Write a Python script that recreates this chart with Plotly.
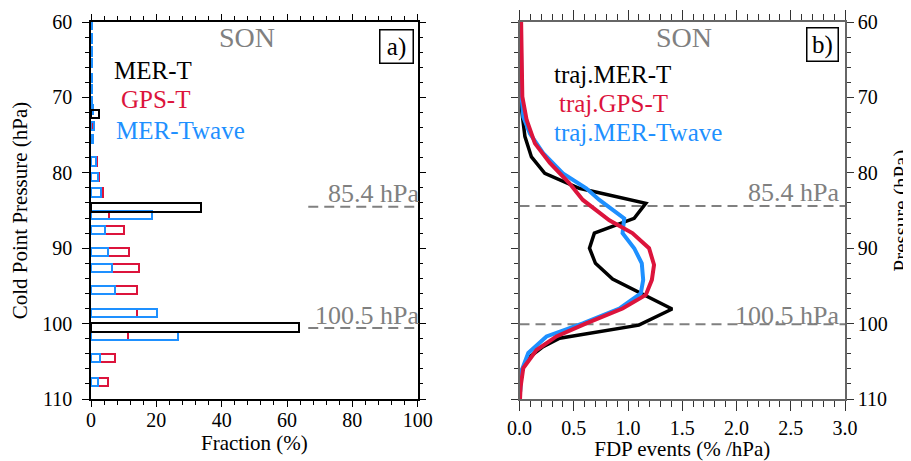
import plotly.graph_objects as go

# ---------------- Panel a data: fraction (%) at cold point pressure levels ----------------
levels_rb = [60.4, 62.2, 63.9, 65.4, 67.4, 68.9, 70.5, 71.6, 73.8, 75.5, 78.5, 80.6, 82.6,
             85.6, 87.55, 90.55, 92.6, 95.55, 98.6, 101.65, 104.6, 107.75]
gps_t = [0.2, 0.2, 0.2, 0.2, 0.2, 0.2, 0.3, 0.6, 0.4, 0.6, 1.7, 2.5, 3.7,
         5.5, 10.1, 11.6, 14.6, 14.2, 14.2, 11.2, 7.4, 5.1]
mer_twave = [0.2, 0.2, 0.2, 0.2, 0.2, 0.3, 0.3, 0.5, 0.8, 0.5, 1.4, 2.0, 3.0,
             18.7, 4.3, 5.2, 6.4, 7.2, 20.2, 26.7, 2.8, 2.2]
levels_k = [72.2, 84.6, 100.5]
mer_t = [2.3, 33.8, 63.6]

# ---------------- Panel b data: FDP events (% /hPa) ----------------
p_traj_mer = [60, 65, 70, 71.7, 75.2, 77.9, 80.07, 82.06, 84.05, 86.04, 88.0, 90.0, 92.0,
              94.1, 98.06, 100.2, 101.95, 103.06, 104.4, 106.2, 108, 110]
v_traj_mer = [0.01, 0.012, 0.015, 0.02, 0.05, 0.11, 0.233, 0.55, 1.164, 1.057, 0.69, 0.645,
              0.70, 0.858, 1.407, 1.10, 0.37, 0.218, 0.096, 0.02, 0.01, 0.005]
p_traj_gps = [60, 65, 69.9, 73, 76.1, 78.7, 81.4, 83.6, 86.3, 88.0, 90.0, 92.2, 94.2, 96.2,
              98.0, 99.96, 101.7, 103.5, 105.9, 108.4, 110]
v_traj_gps = [0.015, 0.02, 0.026, 0.066, 0.142, 0.28, 0.46, 0.584, 0.828, 1.04, 1.194, 1.24,
              1.22, 1.164, 0.95, 0.615, 0.34, 0.157, 0.035, 0.01, 0.005]
p_traj_wave = [60, 65, 70, 72.6, 74.8, 77.4, 80.07, 82.06, 83.6, 86.04, 88.0, 90.0, 92.0,
               94.2, 96.0, 98.0, 99.96, 101.7, 103.9, 106.2, 110]
v_traj_wave = [0.01, 0.015, 0.02, 0.035, 0.096, 0.218, 0.40, 0.615, 0.736, 0.965, 0.95, 1.057,
               1.127, 1.14, 1.118, 0.92, 0.584, 0.249, 0.081, 0.02, 0.0]

ref_p_a = [84.5, 100.6]
ref_p_b = [84.4, 100.1]
ref_labels = ["85.4 hPa", "100.5 hPa"]

BLACK = "#000000"
RED = "#DC143C"
BLUE = "#1E90FF"
GRAY = "#808080"
FONT = "Liberation Serif"

fig = go.Figure()

# panel a bars
fig.add_trace(go.Bar(y=levels_rb, x=gps_t, orientation="h", width=1.1,
                     marker=dict(color="rgba(0,0,0,0)", line=dict(color=RED, width=2)),
                     xaxis="x", yaxis="y", showlegend=False))
fig.add_trace(go.Bar(y=levels_rb, x=mer_twave, orientation="h", width=1.1,
                     marker=dict(color="rgba(0,0,0,0)", line=dict(color=BLUE, width=2)),
                     xaxis="x", yaxis="y", showlegend=False))
fig.add_trace(go.Bar(y=levels_k, x=mer_t, orientation="h", width=1.1,
                     marker=dict(color="rgba(0,0,0,0)", line=dict(color=BLACK, width=2)),
                     xaxis="x", yaxis="y", showlegend=False))

# panel a dashed reference lines
for p in ref_p_a:
    fig.add_trace(go.Scatter(x=[66.5, 100], y=[p, p], mode="lines",
                             line=dict(color=GRAY, width=2, dash="10px,6px"),
                             xaxis="x", yaxis="y", showlegend=False, hoverinfo="skip"))
# panel b dashed reference lines
for p in ref_p_b:
    fig.add_trace(go.Scatter(x=[0, 3], y=[p, p], mode="lines",
                             line=dict(color=GRAY, width=2, dash="10px,6px"),
                             xaxis="x2", yaxis="y2", showlegend=False, hoverinfo="skip"))

# panel b curves
fig.add_trace(go.Scatter(x=v_traj_mer, y=p_traj_mer, mode="lines",
                         line=dict(color=BLACK, width=3.5), xaxis="x2", yaxis="y2", showlegend=False))
fig.add_trace(go.Scatter(x=v_traj_wave, y=p_traj_wave, mode="lines",
                         line=dict(color=BLUE, width=4), xaxis="x2", yaxis="y2", showlegend=False))
fig.add_trace(go.Scatter(x=v_traj_gps, y=p_traj_gps, mode="lines",
                         line=dict(color=RED, width=4), xaxis="x2", yaxis="y2", showlegend=False))

# page body has an 8px margin, so the figure is 8px smaller and offset
OFF = 8
W, H = 911 - OFF, 461 - OFF
tickfont = dict(family=FONT, size=20, color="#000000")
titlefont = dict(family=FONT, size=21, color="#000000")

fig.update_layout(
    width=W, height=H,
    margin=dict(l=0, r=0, t=22 - OFF, b=62),
    paper_bgcolor="white", plot_bgcolor="white",
    barmode="overlay", bargap=0,
    font=dict(family=FONT),
    xaxis=dict(domain=[(91 - OFF) / W, (417.7 - OFF) / W], range=[0, 100], anchor="y",
               automargin=False,
               showline=True, linecolor="#000000", linewidth=1.5, mirror="ticks",
               ticks="outside", ticklen=6, tickwidth=1.2, tickcolor="#000000",
               dtick=20, tick0=0, showgrid=False, zeroline=False,
               minor=dict(dtick=4, ticks="outside", ticklen=4, tickwidth=1, tickcolor="#000000", showgrid=False),
               tickfont=tickfont, ticklabelstandoff=-4,
               title=dict(text="Fraction (%)", font=titlefont, standoff=3)),
    yaxis=dict(domain=[0, 1], range=[110, 60], anchor="x", automargin=False,
               showline=True, linecolor="#000000", linewidth=1.5, mirror="ticks",
               ticks="outside", ticklen=7, tickwidth=1.2, tickcolor="#000000",
               dtick=10, tick0=60, showgrid=False, zeroline=False,
               minor=dict(dtick=2, ticks="outside", ticklen=4, tickwidth=1, tickcolor="#000000", showgrid=False),
               tickfont=tickfont, ticklabelstandoff=6,
               title=dict(text="Cold Point Pressure (hPa)", font=titlefont, standoff=10)),
    xaxis2=dict(domain=[(519.5 - OFF) / W, (845 - OFF) / W], range=[0, 3], anchor="y2",
                automargin=False,
                showline=True, linecolor="#666666", linewidth=1.5, mirror="ticks",
                ticks="outside", ticklen=10, tickwidth=1.2, tickcolor="#333333",
                dtick=0.5, tick0=0, tickformat=".1f", showgrid=False, zeroline=False,
                minor=dict(dtick=0.1, ticks="outside", ticklen=6, tickwidth=1, tickcolor="#333333", showgrid=False),
                tickfont=tickfont,
                title=dict(text="FDP events (% /hPa)", font=titlefont, standoff=6)),
    yaxis2=dict(domain=[0, 1], range=[110, 60], anchor="x2", side="right", automargin=False,
                showline=True, linecolor="#666666", linewidth=1.5, mirror="ticks",
                ticks="outside", ticklen=7, tickwidth=1.2, tickcolor="#333333",
                dtick=10, tick0=60, showgrid=False, zeroline=False,
                minor=dict(dtick=2, ticks="outside", ticklen=4, tickwidth=1, tickcolor="#333333", showgrid=False),
                tickfont=tickfont),
)

ann = []
def txt(x, y, text, color, size, xref, yref, xanchor="left", xshift=0):
    ann.append(dict(x=x, y=y, xref=xref, yref=yref, text=text, showarrow=False,
                    xanchor=xanchor, yanchor="middle", xshift=xshift,
                    font=dict(family=FONT, size=size, color=color)))

# panel a texts
txt(47.6, 62.1, "SON", GRAY, 28, "x", "y", "center")
txt(6.5, 66.4, "MER-T", BLACK, 25, "x", "y")
txt(8.7, 70.3, "GPS-T", RED, 25, "x", "y")
txt(6.9, 74.4, "MER-Twave", BLUE, 25, "x", "y")
txt(100, 82.7, ref_labels[0], GRAY, 26, "x", "y", "right", xshift=3)
txt(100, 98.9, ref_labels[1], GRAY, 26, "x", "y", "right", xshift=3)
# panel b texts
txt(1.52, 62.1, "SON", GRAY, 28, "x2", "y2", "center")
txt(0.30, 67.0, "traj.MER-T", BLACK, 25, "x2", "y2")
txt(0.342, 70.8, "traj.GPS-T", RED, 25, "x2", "y2")
txt(0.30, 74.7, "traj.MER-Twave", BLUE, 25, "x2", "y2")
txt(2.96, 82.6, ref_labels[0], GRAY, 26, "x2", "y2", "right")
txt(2.96, 98.9, ref_labels[1], GRAY, 26, "x2", "y2", "right")

# right-hand axis title of panel b (as rotated text)
ann.append(dict(x=(900 - OFF) / W, y=0.5, xref="paper", yref="paper", text="Pressure (hPa)",
                showarrow=False, textangle=-90, xanchor="center", yanchor="middle",
                font=titlefont))

# panel labels in boxes
ann.append(dict(x=93.4, y=63.2, xref="x", yref="y", text="a)", showarrow=False,
                xanchor="center", yanchor="middle", width=32, height=32, borderpad=0,
                bordercolor="#000000", borderwidth=1.5, bgcolor="white",
                font=dict(family=FONT, size=25, color=BLACK)))
ann.append(dict(x=2.79, y=62.98, xref="x2", yref="y2", text="b)", showarrow=False,
                xanchor="center", yanchor="middle", width=30, height=32, borderpad=0,
                bordercolor="#000000", borderwidth=1.5, bgcolor="white",
                font=dict(family=FONT, size=25, color=BLACK)))

fig.update_layout(annotations=ann)
fig.write_html("out.html")
